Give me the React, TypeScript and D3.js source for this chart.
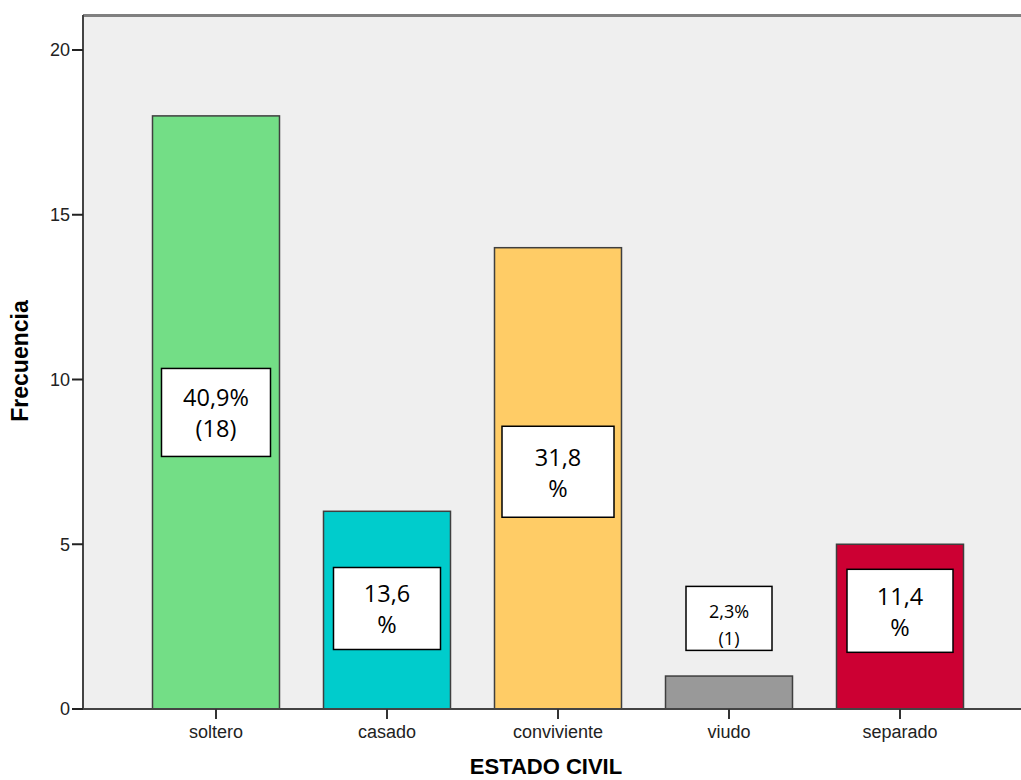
import React from "react";
import * as d3 from "d3";

// Estado civil: frecuencias por categoría
const categories = ["soltero", "casado", "conviviente", "viudo", "separado"];
const counts = [18, 6, 14, 1, 5];
const barColors = ["#73de86", "#00cccc", "#ffcc66", "#999999", "#cc0033"];
const yTicks = [0, 5, 10, 15, 20];
// Texto de cada etiqueta (porcentaje sobre el total, con o sin recuento)
const labelLines = [
  ["40,9%", "(18)"],
  ["13,6", "%"],
  ["31,8", "%"],
  ["2,3%", "(1)"],
  ["11,4", "%"],
];

const W = 1021;
const H = 780;

export default function App() {
  const left = 83;
  const top = 15;
  const bottom = 709;

  const x = d3
    .scaleBand<string>()
    .domain(categories)
    .range([left, 1033])
    .paddingInner(0.2515)
    .paddingOuter(0.4035)
    .align(0.5);
  const y = d3.scaleLinear().domain([0, 20]).range([bottom, 50]);

  // Centro vertical de cada etiqueta, en unidades del eje Y
  const labelAnchor = [9, 3.05, 7.2, 2.75, 2.98];
  const boxSize = [
    [109, 88],
    [107, 82],
    [112, 91],
    [86, 64],
    [106, 83],
  ];

  const font = "Liberation Sans, Arial, sans-serif";
  const labelFont = "'Open Sans', sans-serif";

  return (
    <svg
      width={W}
      height={H}
      style={{ position: "absolute", left: 0, top: 0, display: "block", background: "#fff" }}
    >
      {/* área del gráfico */}
      <rect x={left} y={top} width={W - left} height={bottom - top} fill="#efefef" />
      <line x1={left} x2={W} y1={top + 0.5} y2={top + 0.5} stroke="#808080" strokeWidth={3} />

      {/* barras */}
      {categories.map((c, i) => (
        <rect
          key={c}
          x={x(c)! + 0.5}
          y={y(counts[i])}
          width={x.bandwidth() - 1}
          height={bottom - y(counts[i])}
          fill={barColors[i]}
          stroke="#3f3f3f"
          strokeWidth={1.5}
        />
      ))}

      {/* ejes */}
      <line x1={left} x2={left} y1={top} y2={bottom + 1} stroke="#444" strokeWidth={2} />
      <line x1={left - 1} x2={W} y1={bottom} y2={bottom} stroke="#444" strokeWidth={2} />

      {yTicks.map((t) => (
        <g key={t}>
          <line x1={72} x2={left} y1={y(t)} y2={y(t)} stroke="#222" strokeWidth={2} />
          <text
            x={70}
            y={y(t)}
            dy="0.36em"
            textAnchor="end"
            fontFamily={font}
            fontSize={18}
            fill="#222"
          >
            {t}
          </text>
        </g>
      ))}

      {categories.map((c) => {
        const cx = x(c)! + x.bandwidth() / 2;
        return (
          <g key={c}>
            <line x1={cx} x2={cx} y1={bottom} y2={719} stroke="#333" strokeWidth={2} />
            <text x={cx} y={738} textAnchor="middle" fontFamily={font} fontSize={18} fill="#222">
              {c}
            </text>
          </g>
        );
      })}

      {/* etiquetas de valor */}
      {categories.map((c, i) => {
        const cx = x(c)! + x.bandwidth() / 2;
        const cy = y(labelAnchor[i]);
        const [bw, bh] = boxSize[i];
        const small = i === 3;
        const fs = small ? 18 : 23.5;
        const gap = small ? 27 : 31;
        const shift = small ? 7 : 1;
        return (
          <g key={c}>
            <rect
              x={cx - bw / 2}
              y={cy - bh / 2}
              width={bw}
              height={bh}
              fill="#fff"
              stroke="#000"
              strokeWidth={1.5}
            />
            {labelLines[i].map((s, k) => (
              <text
                key={k}
                x={cx}
                y={cy + shift + (k - 0.5) * gap}
                dy="0.36em"
                textAnchor="middle"
                fontFamily={labelFont}
                fontSize={fs}
                fill="#000"
              >
                {s}
              </text>
            ))}
          </g>
        );
      })}

      {/* títulos de los ejes */}
      <text
        x={546}
        y={774}
        textAnchor="middle"
        fontFamily={font}
        fontWeight="bold"
        fontSize={22}
        fill="#000"
      >
        ESTADO CIVIL
      </text>
      <text
        transform="translate(28,361) rotate(-90)"
        textAnchor="middle"
        fontFamily={font}
        fontWeight="bold"
        fontSize={23}
        fill="#000"
      >
        Frecuencia
      </text>
    </svg>
  );
}
